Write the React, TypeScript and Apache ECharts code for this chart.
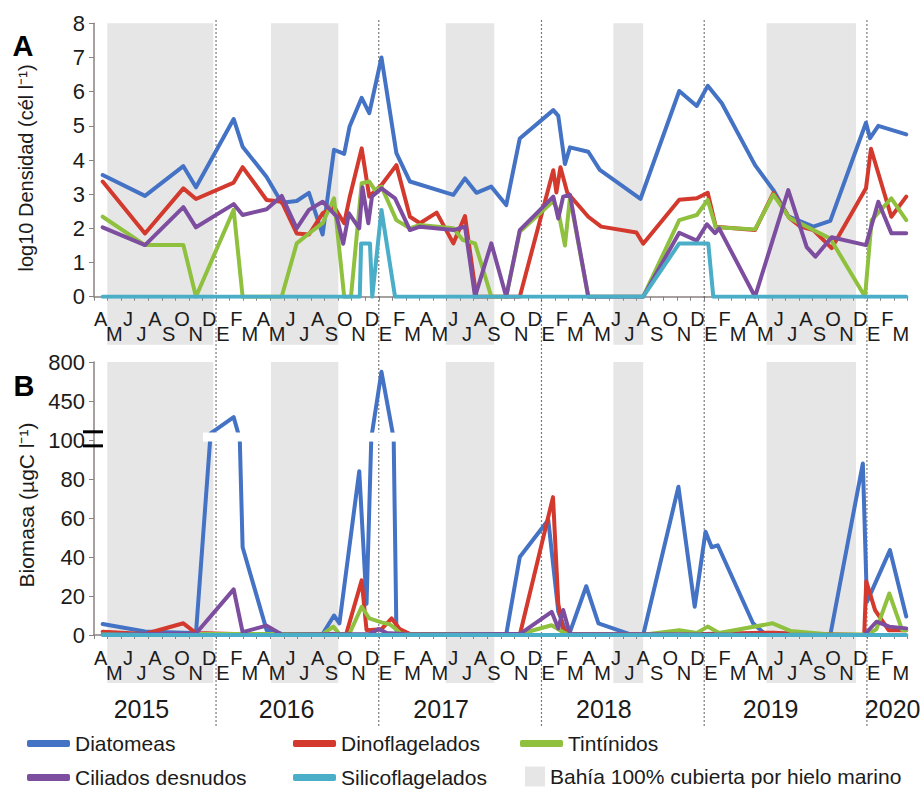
import React, { useEffect, useRef } from "react";
import * as echarts from "echarts";

// Month initials (Spanish), starting in April 2015; one letter per sampled month
const monthLetters = ["A", "M", "J", "J", "A", "S", "O", "N", "D", "E", "F", "M"];
const monthCount = 60;
const yearLabels = ["2015", "2016", "2017", "2018", "2019", "2020"];
// positions of the year captions, in months since 1 April 2015
const yearLabelAt = [3.5, 14.2, 25.6, 37.6, 49.9, 58.9];
// 1 January of each year, in months since 1 April 2015
const yearBoundaries = [9, 21, 33, 45, 57];
// periods with the bay fully ice-covered [start, end]
const iceSeasons = [
  [0.98, 8.8],
  [13.05, 18.02],
  [25.94, 29.52],
  [38.3, 40.5],
  [49.6, 56.19],
];
const biomassTickLabels = ["0", "20", "40", "60", "80", "100", "450", "800"];

// log10 density (cells per litre) — [months since 1 Apr 2015, value]
const densDiatomeas = [
  [0.64, 3.56], [3.76, 2.95], [6.59, 3.82], [7.52, 3.2], [10.3, 5.2], [10.96, 4.39], [12.73, 3.5],
  [13.84, 2.75], [14.95, 2.8], [15.85, 3.04], [16.86, 1.82], [17.7, 4.3], [18.45, 4.18], [18.85, 4.98],
  [19.74, 5.82], [20.3, 5.37], [21.2, 7.0], [22.3, 4.2], [23.3, 3.37], [26.5, 2.98], [27.36, 3.46],
  [28.2, 3.04], [29.3, 3.22], [30.4, 2.68], [31.4, 4.63], [33.87, 5.46], [34.24, 5.29], [34.73, 3.88],
  [35.1, 4.37], [36.45, 4.24], [37.3, 3.71], [40.3, 2.86], [43.16, 6.02], [44.45, 5.58], [45.26, 6.17],
  [46.3, 5.66], [48.75, 3.85], [50.1, 3.12], [51.2, 2.35], [53.05, 2.05], [54.3, 2.22], [56.93, 5.09],
  [57.23, 4.64], [57.84, 5.0], [59.9, 4.75],
];
const densDinoflagelados = [
  [0.64, 3.37], [3.76, 1.85], [6.59, 3.17], [7.52, 2.86], [10.3, 3.34], [10.96, 3.79], [12.73, 2.83],
  [13.84, 2.78], [14.95, 1.85], [15.85, 1.82], [16.86, 2.44], [17.7, 2.63], [18.45, 2.15], [18.85, 2.9],
  [19.74, 4.34], [20.3, 2.93], [21.2, 3.27], [22.3, 3.85], [23.3, 2.34], [24.04, 2.15], [25.27, 2.46],
  [26.5, 1.56], [27.36, 2.36], [28.2, 0], [31.4, 0], [33.87, 3.7], [34.1, 3.05], [34.4, 3.79],
  [34.9, 3.05], [36.45, 2.34], [37.4, 2.05], [40.0, 1.88], [40.5, 1.55], [43.16, 2.84], [44.45, 2.88],
  [45.26, 3.04], [45.85, 2.05], [48.75, 1.95], [50.1, 3.03], [51.3, 2.3], [52.1, 2.05], [53.05, 1.95],
  [54.4, 1.42], [56.93, 3.17], [57.3, 4.33], [58.8, 2.34], [59.9, 2.93],
];
const densTintinidos = [
  [0.64, 2.34], [3.76, 1.51], [6.59, 1.51], [7.52, 0], [10.3, 2.54], [10.96, 0], [13.84, 0],
  [14.95, 1.56], [15.85, 1.85], [16.86, 2.15], [17.7, 2.88], [18.45, 0], [18.95, 0], [19.74, 3.32],
  [20.3, 3.37], [20.72, 3.12], [21.2, 3.22], [22.3, 2.24], [23.3, 2.0], [24.04, 2.1], [26.5, 2.0],
  [27.2, 1.66], [28.1, 1.56], [29.3, 0], [30.4, 0], [31.4, 1.9], [33.87, 2.8], [34.24, 2.5],
  [34.73, 1.5], [35.1, 2.9], [36.45, 0], [40.5, 0], [43.16, 2.24], [44.45, 2.39], [45.26, 2.83],
  [45.85, 2.03], [48.75, 1.97], [50.1, 2.99], [51.3, 2.3], [53.05, 1.95], [54.3, 1.7], [56.86, 0],
  [57.35, 2.24], [58.8, 2.88], [59.9, 2.24],
];
const densCiliados = [
  [0.64, 2.03], [3.76, 1.51], [6.59, 2.62], [7.52, 2.03], [10.3, 2.71], [10.96, 2.39], [12.73, 2.56],
  [13.84, 2.95], [14.95, 2.0], [15.85, 2.54], [16.86, 2.78], [17.9, 2.34], [18.38, 1.55], [18.8, 2.44],
  [19.56, 2.0], [19.8, 3.2], [20.23, 2.15], [20.5, 2.93], [21.2, 3.17], [22.2, 2.88], [23.3, 1.95],
  [24.04, 2.05], [26.5, 1.95], [27.36, 2.05], [28.1, 0], [29.3, 1.56], [30.4, 0], [31.4, 1.95],
  [33.87, 2.93], [34.24, 2.29], [34.6, 2.93], [35.1, 2.98], [36.45, 0], [40.5, 0], [43.16, 1.87],
  [44.45, 1.64], [45.2, 2.12], [45.8, 1.86], [46.1, 2.0], [48.75, 0], [51.2, 3.12], [52.56, 1.45],
  [53.2, 1.17], [54.4, 1.74], [56.93, 1.51], [57.84, 2.78], [58.8, 1.86], [59.9, 1.86],
];
const densSilicoflagelados = [
  [0.64, 0], [19.6, 0], [19.7, 1.56], [20.35, 1.56], [20.52, 0], [21.2, 2.54], [22.2, 0],
  [40.5, 0], [43.16, 1.56], [45.3, 1.56], [45.67, 0], [59.9, 0],
];

// biomass (µgC per litre) — [months since 1 Apr 2015, value]
const bioDiatomeas = [
  [0.64, 5.6], [3.76, 1.8], [6.59, 1.2], [7.52, 1.0], [8.6, 160], [10.3, 305], [10.75, 110],
  [10.96, 45], [12.73, 2.5], [13.84, 0.5], [16.86, 0.5], [17.7, 10], [18.1, 6], [18.83, 45],
  [19.56, 84], [20.1, 16], [20.45, 120], [21.2, 712], [22.1, 115], [22.3, 2.5], [23.3, 0.5],
  [30.4, 0.3], [31.4, 40], [33.5, 59], [34.24, 12], [34.73, 3], [35.1, 1.5], [36.3, 25], [37.2, 6],
  [39.5, 0.5], [40.5, 0], [43.1, 76], [44.3, 14.5], [45.1, 53], [45.55, 45], [46.0, 46],
  [48.6, 6], [49.4, 1], [54.3, 0], [56.7, 88], [57.0, 17], [58.7, 43.5], [59.9, 9.5],
];
const bioDinoflagelados = [
  [0.64, 1.7], [3.76, 0.5], [6.59, 6], [7.52, 1.0], [10.3, 0.5], [17.7, 0.5], [18.6, 0.5],
  [19.74, 28], [20.1, 2.5], [21.2, 3], [21.95, 8.5], [22.55, 3], [23.3, 0.5], [31.4, 0],
  [33.85, 70.7], [34.24, 16], [34.6, 3], [35.1, 0.5], [43.16, 0.3], [50.1, 1.2], [51.3, 0.8],
  [56.8, 0], [56.95, 27.5], [57.6, 12.8], [58.6, 2.5], [59.9, 2.5],
];
const bioTintinidos = [
  [0.64, 0.5], [16.86, 0.5], [17.65, 4.3], [18.1, 0.5], [18.83, 0.5], [19.74, 14.5], [20.3, 8.5],
  [21.2, 6.5], [21.8, 5.5], [22.2, 3.4], [22.6, 0.8], [23.3, 0.3], [31.4, 0.5], [33.75, 5],
  [34.7, 1], [35.1, 0.3], [40.5, 0.2], [43.16, 2.5], [44.45, 1], [45.26, 4.3], [46.1, 1],
  [50.05, 6], [51.4, 2], [54.3, 0.3], [57.0, 0.2], [57.7, 3], [58.65, 21.3], [59.6, 2.5], [59.9, 2.5],
];
const bioCiliados = [
  [0.64, 0.3], [7.52, 0.8], [10.3, 23.4], [10.96, 1.5], [12.73, 4.8], [13.84, 0.3], [20.3, 0.5],
  [21.0, 3], [21.6, 1], [23.3, 0.3], [31.4, 0.5], [33.75, 11.9], [34.24, 3.4], [34.6, 12.8],
  [35.1, 0.5], [56.8, 0], [57.7, 6.8], [58.65, 4.3], [59.9, 3.4],
];
const bioSilicoflagelados = [[0.64, 0], [59.9, 0]];

const FONT = '"Liberation Sans", Arial, Helvetica, sans-serif';
const TEXT = "#1b1b1b";
const AXIS = "#8a8282";
const ICE = "Bahía 100% cubierta por hielo marino";
const ICE_COLOR = "#e6e6e6";

const groups = [
  { name: "Diatomeas", color: "#4472c4", dens: densDiatomeas, bio: bioDiatomeas },
  { name: "Dinoflagelados", color: "#d3392d", dens: densDinoflagelados, bio: bioDinoflagelados },
  { name: "Tintínidos", color: "#8fc13f", dens: densTintinidos, bio: bioTintinidos },
  { name: "Ciliados desnudos", color: "#7d4e9f", dens: densCiliados, bio: bioCiliados },
  { name: "Silicoflagelados", color: "#4aaec8", dens: densSilicoflagelados, bio: bioSilicoflagelados },
];

// Broken biomass axis: 0–100 linear (20 per step), then 100–450 and 450–800 one step each
function toBrokenScale(v: number): number {
  if (v <= 100) return v / 20;
  if (v <= 450) return 5 + (v - 100) / 350;
  return 6 + (v - 450) / 350;
}

const monthIds = Array.from({ length: monthCount }, (_, i) => String(i));

function monthAxis(gridIndex: number) {
  return {
    type: "category",
    gridIndex,
    data: monthIds,
    boundaryGap: true,
    z: 3,
    axisLine: { show: true, lineStyle: { color: AXIS, width: 1.5 } },
    axisTick: { show: true, interval: 0, length: 4, lineStyle: { color: AXIS, width: 1 } },
    axisLabel: {
      interval: 0,
      fontSize: 20,
      lineHeight: 15,
      margin: 15,
      color: TEXT,
      fontFamily: FONT,
      formatter: (_v: string, i: number) =>
        i % 2 === 0 ? monthLetters[i % 12] : "\n" + monthLetters[i % 12],
    },
    splitLine: { show: false },
  };
}

function valueYAxis(gridIndex: number, max: number, formatter?: (v: number) => string) {
  return {
    type: "value",
    gridIndex,
    min: 0,
    max,
    interval: 1,
    z: 3,
    axisLine: { show: true, lineStyle: { color: AXIS, width: 1.5 } },
    axisTick: { show: true, length: 5, lineStyle: { color: AXIS } },
    splitLine: { show: false },
    axisLabel: { fontSize: 22, color: TEXT, margin: 9, fontFamily: FONT, formatter },
  };
}

function iceSeries(xAxisIndex: number, yAxisIndex: number) {
  return {
    type: "custom",
    name: ICE,
    xAxisIndex,
    yAxisIndex,
    data: iceSeasons,
    encode: { x: [0, 1] },
    z: 1,
    silent: true,
    itemStyle: { color: ICE_COLOR },
    renderItem: (params: any, api: any) => {
      const x0 = api.coord([api.value(0), 0])[0];
      const x1 = api.coord([api.value(1), 0])[0];
      const cs = params.coordSys;
      return {
        type: "rect",
        shape: { x: x0, y: cs.y, width: x1 - x0, height: cs.height + 48 },
        style: { fill: ICE_COLOR },
      };
    },
  };
}

const legendBase = {
  orient: "vertical",
  top: 733,
  itemWidth: 43,
  itemHeight: 7,
  itemGap: 13,
  icon: "roundRect",
  selectedMode: false,
  padding: 0,
  textStyle: { fontSize: 21, lineHeight: 21, color: TEXT, fontFamily: FONT },
};

export default function App() {
  const ref = useRef<HTMLDivElement>(null);

  useEffect(() => {
    if (!ref.current) return;
    const chart = echarts.init(ref.current, null, { renderer: "svg" });

    const lineSeries: any[] = [];
    groups.forEach((g) => {
      lineSeries.push({
        type: "line",
        name: g.name,
        xAxisIndex: 2,
        yAxisIndex: 0,
        data: g.dens,
        symbol: "none",
        z: 5,
        color: g.color,
        lineStyle: { width: 4, color: g.color, cap: "round", join: "round" },
      });
    });
    groups.forEach((g) => {
      lineSeries.push({
        type: "line",
        name: g.name,
        xAxisIndex: 3,
        yAxisIndex: 1,
        data: g.bio.map(([x, v]) => [x, toBrokenScale(v)]),
        symbol: "none",
        z: 5,
        color: g.color,
        lineStyle: { width: 4, color: g.color, cap: "round", join: "round" },
      });
    });

    chart.setOption({
      animation: false,
      textStyle: { fontFamily: FONT },
      grid: [
        { left: 94, right: 13.4, top: 23.3, height: 273.4 },
        { left: 94, right: 13.4, top: 362, height: 273 },
      ],
      xAxis: [
        monthAxis(0),
        monthAxis(1),
        { type: "value", gridIndex: 0, min: 0, max: monthCount, show: false },
        { type: "value", gridIndex: 1, min: 0, max: monthCount, show: false },
      ],
      yAxis: [
        valueYAxis(0, 8),
        valueYAxis(1, 7, (v: number) => biomassTickLabels[v] ?? ""),
      ],
      legend: [
        { ...legendBase, left: 27, data: ["Diatomeas", "Ciliados desnudos"] },
        { ...legendBase, left: 293, data: ["Dinoflagelados", "Silicoflagelados"] },
        { ...legendBase, left: 520, data: ["Tintínidos"] },
        { ...legendBase, left: 525, top: 766, itemWidth: 20, itemHeight: 20, icon: "rect", data: [ICE] },
      ],
      series: [iceSeries(2, 0), iceSeries(3, 1), ...lineSeries],
    });

    const xA = (v: number) => chart.convertToPixel({ xAxisIndex: 2 }, v) as number;
    const xB = (v: number) => chart.convertToPixel({ xAxisIndex: 3 }, v) as number;
    const yA = (v: number) => chart.convertToPixel({ yAxisIndex: 0 }, v) as number;
    const yB = (v: number) => chart.convertToPixel({ yAxisIndex: 1 }, v) as number;

    const graphics: any[] = [];
    yearBoundaries.forEach((b) => {
      graphics.push({
        type: "line",
        z: 4,
        silent: true,
        shape: { x1: xA(b), y1: yA(8) - 3, x2: xA(b), y2: 727 },
        style: { stroke: "#4d4d4d", lineWidth: 1.2, lineDash: [1.5, 2.5] },
      });
    });
    yearLabels.forEach((label, i) => {
      graphics.push({
        type: "text",
        z: 4,
        x: xA(yearLabelAt[i]),
        y: 709,
        style: { text: label, fill: TEXT, fontSize: 25, fontFamily: FONT, align: "center", verticalAlign: "middle" },
      });
    });
    // white gaps where the diatom peaks cross the axis break
    [[8.04, 10.95], [20.13, 22.35]].forEach(([a, b]) => {
      graphics.push({
        type: "rect",
        z: 10,
        silent: true,
        shape: { x: xB(a), y: yB(5.19), width: xB(b) - xB(a), height: yB(4.96) - yB(5.19) },
        style: { fill: "#ffffff" },
      });
    });
    // axis break marks
    [5.21, 4.85].forEach((t) => {
      graphics.push({
        type: "line",
        z: 10,
        silent: true,
        shape: { x1: 83, y1: yB(t), x2: 103, y2: yB(t) },
        style: { stroke: "#000000", lineWidth: 3 },
      });
    });
    graphics.push(
      {
        type: "text", z: 10, x: 23, y: 46,
        style: { text: "A", fill: "#000", fontSize: 29, fontWeight: "bold", fontFamily: FONT, align: "center", verticalAlign: "middle" },
      },
      {
        type: "text", z: 10, x: 24, y: 386,
        style: { text: "B", fill: "#000", fontSize: 29, fontWeight: "bold", fontFamily: FONT, align: "center", verticalAlign: "middle" },
      },
      {
        type: "text", z: 10, x: 26, y: 168, rotation: Math.PI / 2,
        style: { text: "log10 Densidad (cél l⁻¹)", fill: TEXT, fontSize: 20, fontFamily: FONT, align: "center", verticalAlign: "middle" },
      },
      {
        type: "text", z: 10, x: 26, y: 505, rotation: Math.PI / 2,
        style: { text: "Biomasa (µgC l⁻¹)", fill: TEXT, fontSize: 21, fontFamily: FONT, align: "center", verticalAlign: "middle" },
      }
    );
    chart.setOption({ graphic: graphics });

    return () => chart.dispose();
  }, []);

  return (
    <div
      ref={ref}
      style={{ position: "fixed", left: 0, top: 0, width: 921, height: 790, background: "#ffffff" }}
    />
  );
}
